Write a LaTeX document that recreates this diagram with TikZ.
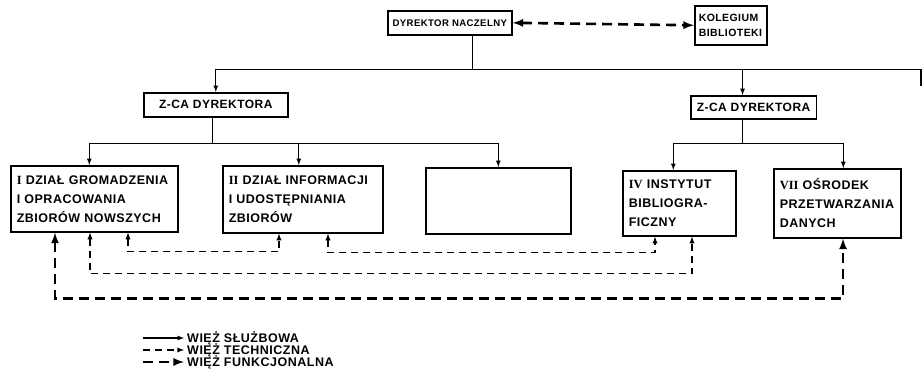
\documentclass[tikz,border=0pt]{standalone}
\usepackage{fontspec}
\setmainfont{Liberation Sans}[LetterSpace=4]
\newfontfamily\romfont{Liberation Serif}
\newcommand{\rom}[1]{{\romfont\bfseries #1}}
\begin{document}
\begin{tikzpicture}[x=1pt, y=-1pt,
        >=latex,   % arrow tips
        font=\bfseries\fontsize{12.5}{19}\selectfont,
        box/.style={draw, line width=1.6pt, inner xsep=6pt, inner ysep=3pt, align=left, anchor=north west},
        rel/.style={line width=1.2pt},
        tech/.style={line width=1.3pt, dash pattern=on 7pt off 5pt},
        func/.style={line width=2.6pt, dash pattern=on 10pt off 6pt}]
        \useasboundingbox (0,0) rectangle (923,380);
        % top level
        \node[box, minimum width=124pt, minimum height=24pt, inner xsep=4pt, font=\bfseries\fontsize{9.6}{12}\selectfont] (dyr) at (387,10) {DYREKTOR NACZELNY};
        \node[box, text width=64pt, minimum height=39pt, inner xsep=4pt, font=\bfseries\fontsize{10.5}{15}\selectfont] (kol) at (694,5) {KOLEGIUM\\BIBLIOTEKI};
        \draw[func, <->] (dyr.east) -- (kol.west);
        % deputies
        \node[box, minimum width=144pt, minimum height=24pt, font=\bfseries\fontsize{12}{13}\selectfont] (zca1) at (143,92) {Z-CA DYREKTORA};
        \node[box, minimum width=123pt, minimum height=23pt, font=\bfseries\fontsize{12}{13}\selectfont] (zca2) at (690,95) {Z-CA DYREKTORA};
        \coordinate (cut) at (921,86);
        \draw[rel, ->] ([xshift=23pt]dyr.south) -- ++(0,34) -| (zca1.north);
        \draw[rel, ->] ([xshift=23pt]dyr.south) -- ++(0,34) -| ([xshift=-11pt]zca2.north);
        \draw[rel] ([xshift=23pt]dyr.south) -- ++(0,34) -| (cut);
        % departments
        \node[box, text width=155pt, minimum height=66pt] (gro) at (10,165) {\rom{I} DZIAŁ GROMADZENIA\\I OPRACOWANIA\\ZBIORÓW NOWSZYCH};
        \node[box, text width=148pt, minimum height=67pt] (inf) at (222,165) {\rom{II} DZIAŁ INFORMACJI\\I UDOSTĘPNIANIA\\ZBIORÓW};
        \node[box, text width=133pt, minimum height=66pt] (pus) at (425,167) {};
        \node[box, text width=101pt, minimum height=65pt] (ins) at (622,170) {\rom{IV} INSTYTUT\\BIBLIOGRA-\\FICZNY};
        \node[box, text width=115pt, minimum height=69pt] (osr) at (773,168) {\rom{VII} OŚRODEK\\PRZETWARZANIA\\DANYCH};
        \draw[rel, ->] ([xshift=-3pt]zca1.south) -- ++(0,26) -| ([xshift=-5pt]gro.north);
        \draw[rel, ->] ([xshift=-3pt]zca1.south) -- ++(0,26) -| ([xshift=-4pt]inf.north);
        \draw[rel, ->] ([xshift=-3pt]zca1.south) -- ++(0,26) -| (pus.north);
        \draw[rel, ->] ([xshift=-11pt]zca2.south) -- ++(0,24) -| ([xshift=-6pt]ins.north);
        \draw[rel, ->] ([xshift=-11pt]zca2.south) -- ++(0,24) -| ([xshift=6pt]osr.north);
        % technical links
        \draw[tech, <->] ([xshift=118pt]gro.south west) -- ++(0,19) -| ([xshift=57pt]inf.south west);
        \draw[tech, <->] ([xshift=106pt]inf.south west) -- ++(0,19) -| ([xshift=33pt]ins.south west);
        \draw[tech, <->] ([xshift=80pt]gro.south west) -- ++(0,41) -| ([xshift=70pt]ins.south west);
        % functional link
        \draw[func, <->] ([xshift=45pt]gro.south west) -- ++(0,66) -| ([xshift=70pt]osr.south west);
        % legend
        \node[anchor=west, inner sep=3pt] (l1) at (184,338) {WIĘŻ SŁUŻBOWA};
        \node[anchor=west, inner sep=3pt] (l2) at (184,350) {WIĘŻ TECHNICZNA};
        \node[anchor=west, inner sep=3pt] (l3) at (184,362) {WIĘŻ FUNKCJONALNA};
        \coordinate (k1) at (143,338);
        \coordinate (k2) at (143,350);
        \coordinate (k3) at (143,362);
        \draw[rel, ->] (k1) -- (l1.west);
        \draw[tech, ->] (k2) -- (l2.west);
        \draw[func, ->] (k3) -- (l3.west);
    \end{tikzpicture}
\end{document}
